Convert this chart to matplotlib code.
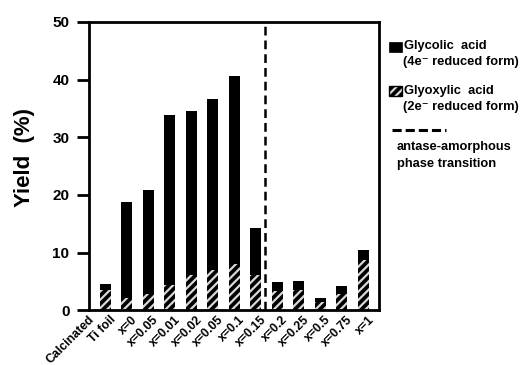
import matplotlib
matplotlib.use("Agg")
import matplotlib.pyplot as plt
from matplotlib.patches import Rectangle
from matplotlib.lines import Line2D

plt.rcParams['font.family'] = ['Liberation Sans', 'DejaVu Sans']
plt.rcParams['font.weight'] = 'bold'
plt.rcParams['hatch.linewidth'] = 1.6

categories = ["Calcinated", "Ti foil", "x=0", "x=0.05", "x=0.01", "x=0.02", "x=0.05",
              "x=0.1", "x=0.15", "x=0.2", "x=0.25", "x=0.5", "x=0.75", "x=1"]
total_yield = [0.0, 4.6, 18.8, 20.9, 33.9, 34.6, 36.7, 40.6, 14.3, 4.9, 5.1, 2.1, 4.2, 10.4]
glyoxylic = [0.0, 3.5, 2.2, 2.9, 4.3, 6.1, 7.0, 8.0, 6.1, 3.4, 3.5, 1.5, 2.9, 8.7]
glycolic = [t - g for t, g in zip(total_yield, glyoxylic)]
yticks = [0, 10, 20, 30, 40, 50]
transition_pos = 8.45

fig = plt.figure(figsize=(5.2, 3.65), dpi=100)
ax = fig.add_axes([0.171, 0.150, 0.558, 0.790])

x = list(range(len(categories)))
w = 0.5
ax.bar(x, glyoxylic, width=w, color='black', edgecolor='#d8d8d8', linewidth=0, hatch='////')
ax.bar(x, glycolic, bottom=glyoxylic, width=w, color='black', linewidth=0)
ax.axvline(transition_pos, color='black', linestyle=(0, (3.5, 2)), linewidth=1.8)

ax.set_xlim(0.245, 13.73)
ax.set_ylim(0, 50)
ax.set_yticks(yticks)
ax.set_yticklabels([str(t) for t in yticks], fontsize=11, fontweight='bold')
ax.tick_params(axis='y', direction='out', length=9, width=2, pad=5)
ax.set_xticks([])
for s in ax.spines.values():
    s.set_linewidth(2)

for i, lab in enumerate(categories):
    ax.text(i + 0.22, -0.012, lab, transform=ax.get_xaxis_transform(), rotation=45,
            ha='right', va='top', rotation_mode='anchor', fontsize=8.8, fontweight='bold',
            clip_on=False)

ax.set_ylabel("Yield  (%)", fontsize=16, fontweight='bold')
ax.yaxis.set_label_coords(-0.185, 0.53)

# legend (figure coordinates in pixels)
W, H = 520, 365
def fx(px): return px / W
def fy(py): return 1 - py / H

fig.patches.append(Rectangle((fx(389), fy(52)), 13 / W, 10 / H, transform=fig.transFigure,
                             facecolor='black', edgecolor='black', linewidth=0.5))
fig.patches.append(Rectangle((fx(389), fy(96)), 13 / W, 10 / H, transform=fig.transFigure,
                             facecolor='black', edgecolor='#d8d8d8', linewidth=0, hatch='////'))
fig.patches.append(Rectangle((fx(389), fy(96)), 13 / W, 10 / H, transform=fig.transFigure,
                             facecolor='none', edgecolor='black', linewidth=1.0))
fig.lines.append(Line2D([fx(392), fx(446)], [fy(130), fy(130)], transform=fig.transFigure,
                        color='black', linestyle=(0, (3, 1.3)), linewidth=2.2))
fs = 9.3
fig.text(fx(404), fy(46), "Glycolic  acid", fontsize=fs, fontweight='bold', va='center')
fig.text(fx(403), fy(62), "(4e\u207b reduced form)", fontsize=fs, fontweight='bold', va='center')
fig.text(fx(404), fy(91), "Glyoxylic  acid", fontsize=fs, fontweight='bold', va='center')
fig.text(fx(403), fy(107), "(2e\u207b reduced form)", fontsize=fs, fontweight='bold', va='center')
fig.text(fx(397), fy(147), "antase-amorphous", fontsize=fs, fontweight='bold', va='center')
fig.text(fx(397), fy(164), "phase transition", fontsize=fs, fontweight='bold', va='center')

fig.savefig("out.png", dpi=100)
